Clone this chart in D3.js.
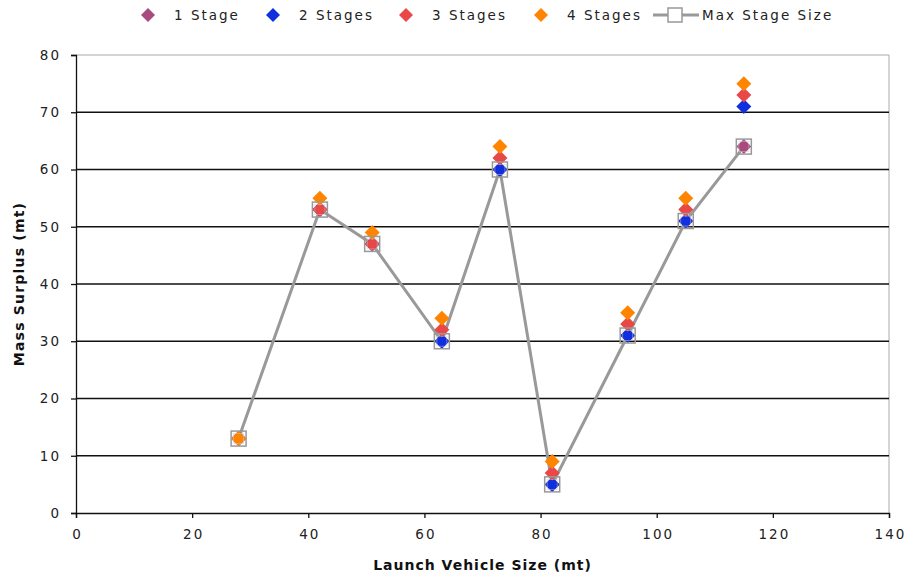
<!DOCTYPE html>
<html>
<head>
<meta charset="utf-8">
<script src="https://cdn.jsdelivr.net/npm/d3@7"></script>
<style>
  html, body { margin: 0; padding: 0; background: #fff; }
  svg { display: block; font-family: "DejaVu Sans", Verdana, sans-serif; }
</style>
</head>
<body>
<svg id="chart" width="905" height="575"></svg>
<script>
// ---- data ----
const launchSizes   = [28, 42, 51, 63, 73, 82, 95, 105, 115];
const oneStage      = [13, 53, 47, 30, 60, 5, 31, 51, 64];
const twoStages     = [13, 53, 47, 30, 60, 5, 31, 51, 71];
const threeStages   = [13, 53, 47, 32, 62, 7, 33, 53, 73];
const fourStages    = [13, 55, 49, 34, 64, 9, 35, 55, 75];
const maxStageSize  = [13, 53, 47, 30, 60, 5, 31, 51, 64];
const xTicks = [0, 20, 40, 60, 80, 100, 120, 140];
const yTicks = [0, 10, 20, 30, 40, 50, 60, 70, 80];

const series = [
  { name: "1 Stage",  values: oneStage,    color: "#a94a7e" },
  { name: "2 Stages", values: twoStages,   color: "#1030e0" },
  { name: "3 Stages", values: threeStages, color: "#e84848" },
  { name: "4 Stages", values: fourStages,  color: "#ff8400" }
];

const svg = d3.select("#chart");
const margin = { left: 76, right: 16, top: 55, bottom: 62 };
const W = 905, H = 575;
const x = d3.scaleLinear().domain([0, 140]).range([margin.left, W - margin.right]);
const y = d3.scaleLinear().domain([0, 80]).range([H - margin.bottom, margin.top]);

// plot border (top/right)
svg.append("line").attr("x1", x(0)).attr("x2", x(140)).attr("y1", y(80)).attr("y2", y(80))
  .attr("stroke", "#aaa").attr("stroke-width", 1);
svg.append("line").attr("x1", x(140)).attr("x2", x(140)).attr("y1", y(80)).attr("y2", y(0))
  .attr("stroke", "#aaa").attr("stroke-width", 1);

// gridlines
svg.append("g").selectAll("line").data(yTicks.filter(d => d > 0 && d < 80)).join("line")
  .attr("x1", x(0)).attr("x2", x(140))
  .attr("y1", d => y(d)).attr("y2", d => y(d))
  .attr("stroke", "#111").attr("stroke-width", 1.3);

// axes
const yAxis = svg.append("g").attr("transform", `translate(${x(0)},0)`)
  .call(d3.axisLeft(y).tickValues(yTicks).tickSize(5).tickPadding(10));
const xAxis = svg.append("g").attr("transform", `translate(0,${y(0)})`)
  .call(d3.axisBottom(x).tickValues(xTicks).tickSize(5).tickPadding(11));
[yAxis, xAxis].forEach(a => {
  a.select(".domain").attr("stroke", "#111").attr("stroke-width", 1.3);
  a.selectAll(".tick line").attr("stroke", "#111").attr("stroke-width", 1.3);
  a.selectAll("text").attr("font-size", 13.5).attr("fill", "#222")
    .attr("font-family", "DejaVu Sans, Verdana, sans-serif").attr("letter-spacing", 2);
});
// compensate trailing letter-spacing on centered x labels
xAxis.selectAll("text").attr("dx", 1);

// max stage size line (drawn beneath diamonds)
const pts = launchSizes.map((d, i) => [d, maxStageSize[i]]);
svg.append("path").datum(pts)
  .attr("d", d3.line().x(d => x(d[0])).y(d => y(d[1])))
  .attr("fill", "none").attr("stroke", "#999").attr("stroke-width", 3);

const diamondPath = (cx, cy, r) => `M${cx},${cy - r}L${cx + r},${cy}L${cx},${cy + r}L${cx - r},${cy}Z`;

// diamonds
series.forEach(s => {
  svg.append("g").selectAll("path").data(launchSizes.map((d, i) => [d, s.values[i]])).join("path")
    .attr("d", d => diamondPath(x(d[0]), y(d[1]), 7.5))
    .attr("fill", s.color);
});

// square markers
svg.append("g").selectAll("g").data(pts).join("g")
  .attr("transform", d => `translate(${x(d[0])},${y(d[1])})`)
  .each(function () {
    const g = d3.select(this);
    g.append("rect").attr("x", -7.5).attr("y", -7.5).attr("width", 15).attr("height", 15)
      .attr("fill", "none").attr("stroke", "#999").attr("stroke-width", 1.5);
    g.append("rect").attr("x", -5).attr("y", -5).attr("width", 10).attr("height", 10)
      .attr("fill", "none").attr("stroke", "#ccc").attr("stroke-width", 0.8).attr("opacity", 0.6);
  });

// axis titles
svg.append("text").attr("x", (x(0) + x(140)) / 2).attr("y", 570)
  .attr("text-anchor", "middle").attr("font-weight", "bold").attr("font-size", 14)
  .attr("letter-spacing", 1).attr("fill", "#111").text("Launch Vehicle Size (mt)");
svg.append("text").attr("transform", `translate(24,${(y(0) + y(80)) / 2}) rotate(-90)`)
  .attr("text-anchor", "middle").attr("font-weight", "bold").attr("font-size", 14)
  .attr("letter-spacing", 1.2).attr("fill", "#111").text("Mass Surplus (mt)");

// legend
const legendPos = [148, 273, 406, 541];
series.forEach((s, i) => {
  const cx = legendPos[i];
  svg.append("path").attr("d", diamondPath(cx, 15, 7)).attr("fill", s.color);
  svg.append("text").attr("x", cx + 26).attr("y", 20).attr("font-size", 13.5)
    .attr("letter-spacing", 2).attr("fill", "#222").text(s.name);
});
svg.append("line").attr("x1", 653).attr("x2", 699).attr("y1", 15).attr("y2", 15)
  .attr("stroke", "#999").attr("stroke-width", 3);
svg.append("rect").attr("x", 668).attr("y", 8).attr("width", 14).attr("height", 14)
  .attr("fill", "#fff").attr("stroke", "#999").attr("stroke-width", 1.5);
svg.append("text").attr("x", 702).attr("y", 20).attr("font-size", 13.5)
  .attr("letter-spacing", 2).attr("fill", "#222").text("Max Stage Size");
</script>
</body>
</html>
